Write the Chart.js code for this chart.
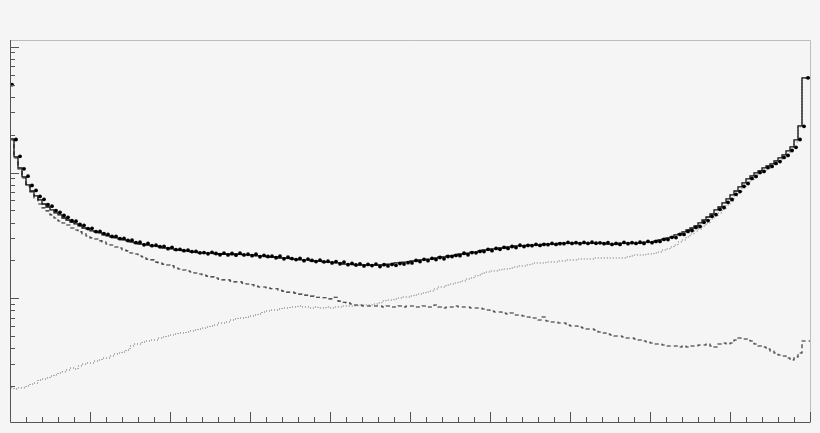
<!DOCTYPE html>
<html>
<head>
<meta charset="utf-8">
<script src="https://cdn.jsdelivr.net/npm/chart.js@4/dist/chart.umd.min.js"></script>
<style>
  html, body { margin: 0; padding: 0; background: #f5f5f5; }
  canvas { display: block; }
</style>
</head>
<body>
<canvas id="graphique" width="820" height="433"></canvas>
<script>
// binning of the histogram (200 bins from -1 to 1)
const binLow = -1;
const binHigh = 1;
const binWidth = 0.01;

// data points (markers)
const dataCounts = [
  4990,1830,1345,1070,935,790,720,645,612,555,
  540,498,482,455,440,414,410,386,380,358,
  360,339,340,327,322,310,311,298,299,288,
  290,277,279,266,273,262,264,257,259,248,
  254,244,245,239,241,235,236,230,231,226,
  232,227,222,229,221,227,220,228,221,224,
  218,224,214,219,215,216,210,216,206,212,
  207,203,208,199,205,200,196,201,195,197,
  191,196,188,194,185,189,184,188,181,186,
  182,187,179,185,181,186,183,189,187,192,
  191,200,196,204,199,208,203,211,206,215,
  215,219,218,228,222,231,230,236,235,245,
  239,249,245,254,249,258,253,264,258,263,
  262,268,263,268,267,273,268,272,272,278,
  273,277,272,278,273,279,274,276,272,277,
  268,273,268,278,272,277,273,279,273,283,
  277,283,283,294,293,305,304,322,322,340,
  346,366,372,402,415,448,463,510,527,579,
  610,671,705,776,818,898,930,1002,1020,1095,
  1118,1180,1222,1318,1368,1496,1585,1830,2330,5660
];

// total prediction (solid)
const totalCounts = [
  4967,1848,1329,1087,922,796,713,651,605,562,
  532,504,477,460,435,419,404,390,376,362,
  356,343,337,331,319,313,307,302,296,291,
  286,280,275,270,270,265,261,261,256,251,
  251,247,242,242,238,238,233,233,229,229,
  229,229,225,226,224,225,223,225,224,221,
  221,221,217,217,217,213,213,213,209,209,
  209,205,205,202,202,202,198,198,198,194,
  194,194,191,191,187,187,187,184,184,184,
  184,184,184,184,184,187,187,191,191,194,
  194,198,198,202,202,205,205,209,213,213,
  217,217,221,225,225,229,233,233,238,242,
  242,247,247,251,251,256,256,261,261,261,
  265,265,265,265,270,270,270,270,275,275,
  275,275,275,275,275,275,275,275,275,275,
  270,270,270,275,275,275,275,275,275,280,
  280,280,286,291,296,302,307,319,325,337,
  349,362,376,397,419,443,468,504,532,573,
  616,663,713,768,826,889,939,992,1029,1087,
  1127,1169,1235,1305,1379,1484,1597,1815,2345,5647
];

// first component (dashed)
const dashedCounts = [
  4940,1815,1305,1067,905,782,700,628,562,523,
  495,460,435,412,397,383,362,349,337,325,
  313,302,296,286,280,270,265,256,251,242,
  238,229,225,217,213,205,202,194,191,187,
  184,181,174,171,168,165,162,159,156,153,
  150,148,145,142,140,140,137,135,135,132,
  130,128,125,123,123,121,119,119,116,114,
  112,112,110,108,106,106,104,102,102,101,
  99,99,102,95,93,92,90,88.5,88.5,86.9,
  86.9,86.9,86.9,86.9,85.3,86.9,85.3,85.3,86.9,85.3,
  86.9,86.9,85.3,85.3,86.9,85.3,85.3,88.5,85.3,83.7,
  85.3,85.3,86.9,85.3,85.3,85.3,83.7,83.7,83.7,82.2,
  80.7,79.3,77.8,77.8,76.4,75.0,76.4,73.7,73.7,72.3,
  71.0,69.7,69.7,67.2,71.0,66.0,64.8,64.8,63.6,63.6,
  61.3,60.2,60.2,59.1,58.0,57.0,57.0,56.0,54.0,53.0,
  52.0,51.1,50.2,50.2,49.2,48.3,48.3,47.5,46.6,45.8,
  44.9,44.1,43.3,43.3,42.5,41.8,41.8,41.8,41.0,41.8,
  41.0,41.8,41.8,42.5,42.5,43.3,41.8,41.0,43.3,44.1,
  43.3,44.1,46.6,48.3,47.5,47.5,45.8,43.3,41.8,41.0,
  39.5,38.1,36.7,35.4,34.8,33.5,32.3,34.1,36.7,45.8
];

// second component (dotted)
const dottedCounts = [
  27.9,19.4,19.0,19.4,19.4,20.1,20.8,21.2,22.4,22.8,
  23.3,24.1,24.6,25.5,26.0,26.9,27.9,27.4,29.0,30.0,
  30.6,30.6,31.7,32.3,33.5,33.5,34.8,36.1,36.7,37.4,
  38.8,41.8,43.3,43.3,44.9,45.8,46.6,46.6,48.3,49.2,
  50.2,51.1,52.0,53.0,53.0,54.0,55.0,56.0,57.0,58.0,
  59.1,60.2,61.3,63.6,63.6,64.8,67.2,68.5,69.7,69.7,
  71.0,72.3,73.7,75.0,77.8,79.3,80.7,80.7,82.2,83.7,
  83.7,85.3,85.3,86.9,85.3,85.3,83.7,85.3,83.7,83.7,
  85.3,83.7,85.3,85.3,86.9,86.9,86.9,86.9,88.5,88.5,
  88.5,88.5,90.1,91.8,95.2,96.9,96.9,98.7,100.6,102.4,
  102.4,104.3,106.2,108.2,110.2,112.2,114.3,118.6,123.0,123.0,
  127.6,129.9,132.3,134.8,137.3,142.4,145.0,150.4,153.2,158.9,
  161.9,164.9,164.9,167.9,171.0,171.0,174.2,177.4,180.7,180.7,
  184.0,187.4,190.9,190.9,190.9,194.4,194.4,194.4,198.0,198.0,
  201.6,201.6,201.6,205.4,205.4,205.4,205.4,209.2,209.2,209.2,
  209.2,209.2,209.2,209.2,209.2,213.0,217.0,221.0,221.0,221.0,
  225.1,225.1,229.2,233.4,242.2,246.7,255.8,265.4,280.3,290.8,
  307.3,324.6,342.9,355.7,375.8,397.0,427.2,451.3,476.8,513.0,
  552.0,593.9,650.9,700.3,753.6,810.8,872.4,921.7,973.7,1010,
  1067,1127,1169,1235,1305,1379,1511,1749,2302,5600
];

// y axis range (log)
const yMin = 10.39;
const yMax = 11306;

// histogram outline: one point per bin edge, stepped after
function histo(counts) {
  const pts = counts.map((c, i) => ({ x: binLow + i * binWidth, y: c }));
  pts.push({ x: binHigh, y: counts[counts.length - 1] });
  return pts;
}

function points(counts) {
  return counts.map((c, i) => ({ x: binLow + (i + 0.5) * binWidth, y: c }));
}

// ROOT-like frame with inward ticks
const cadre = {
  id: "cadre",
  afterDatasetsDraw(chart) {
    const ctx = chart.ctx;
    const a = chart.chartArea;
    const sx = chart.scales.x;
    const sy = chart.scales.y;
    ctx.save();
    ctx.lineWidth = 1;
    ctx.strokeStyle = "#bdbdbd";
    ctx.beginPath();
    ctx.moveTo(a.left, a.top + 0.5);
    ctx.lineTo(a.right + 0.5, a.top + 0.5);
    ctx.lineTo(a.right + 0.5, a.bottom);
    ctx.stroke();

    ctx.strokeStyle = "#555";
    ctx.beginPath();
    ctx.moveTo(a.left + 0.5, a.top);
    ctx.lineTo(a.left + 0.5, a.bottom + 0.5);
    ctx.lineTo(a.right + 0.5, a.bottom + 0.5);
    ctx.stroke();

    // x ticks
    ctx.beginPath();
    for (let k = 0; k <= 50; k++) {
      const v = binLow + k * 0.04;
      const px = Math.round(sx.getPixelForValue(v)) + 0.5;
      const len = k % 5 === 0 ? 10 : 5;
      ctx.moveTo(px, a.bottom);
      ctx.lineTo(px, a.bottom - len);
    }
    // y ticks
    for (let e = 1; e <= 4; e++) {
      for (let m = 1; m <= 9; m++) {
        const v = m * Math.pow(10, e);
        if (v < yMin || v > yMax) continue;
        const py = Math.round(sy.getPixelForValue(v)) + 0.5;
        const len = m === 1 ? 9 : 5;
        ctx.moveTo(a.left, py);
        ctx.lineTo(a.left + len, py);
      }
    }
    ctx.stroke();
    ctx.restore();
  }
};

const ctx = document.getElementById("graphique").getContext("2d");
window.myChart = new Chart(ctx, {
  type: "line",
  data: {
    datasets: [
      {
        type: "scatter",
        data: points(dataCounts),
        pointRadius: 1.9,
        pointBackgroundColor: "#000",
        pointBorderWidth: 0,
        showLine: false
      },
      {
        data: histo(totalCounts),
        stepped: "after",
        borderColor: "#111",
        borderWidth: 1.3,
        pointRadius: 0,
        fill: false
      },
      {
        data: histo(dashedCounts),
        stepped: "after",
        borderColor: "#222",
        borderWidth: 1.1,
        borderDash: [4, 3],
        pointRadius: 0,
        fill: false
      },
      {
        data: histo(dottedCounts),
        stepped: "after",
        borderColor: "#666",
        borderWidth: 1,
        borderDash: [1, 2],
        pointRadius: 0,
        fill: false
      }
    ]
  },
  options: {
    responsive: false,
    animation: false,
    layout: { padding: { left: 10, top: 40, right: 10, bottom: 11 } },
    plugins: {
      legend: { display: false },
      tooltip: { enabled: false },
      title: { display: false }
    },
    scales: {
      x: { type: "linear", min: binLow, max: binHigh, display: false },
      y: { type: "logarithmic", min: yMin, max: yMax, display: false }
    }
  },
  plugins: [cadre]
});
</script>
</body>
</html>
